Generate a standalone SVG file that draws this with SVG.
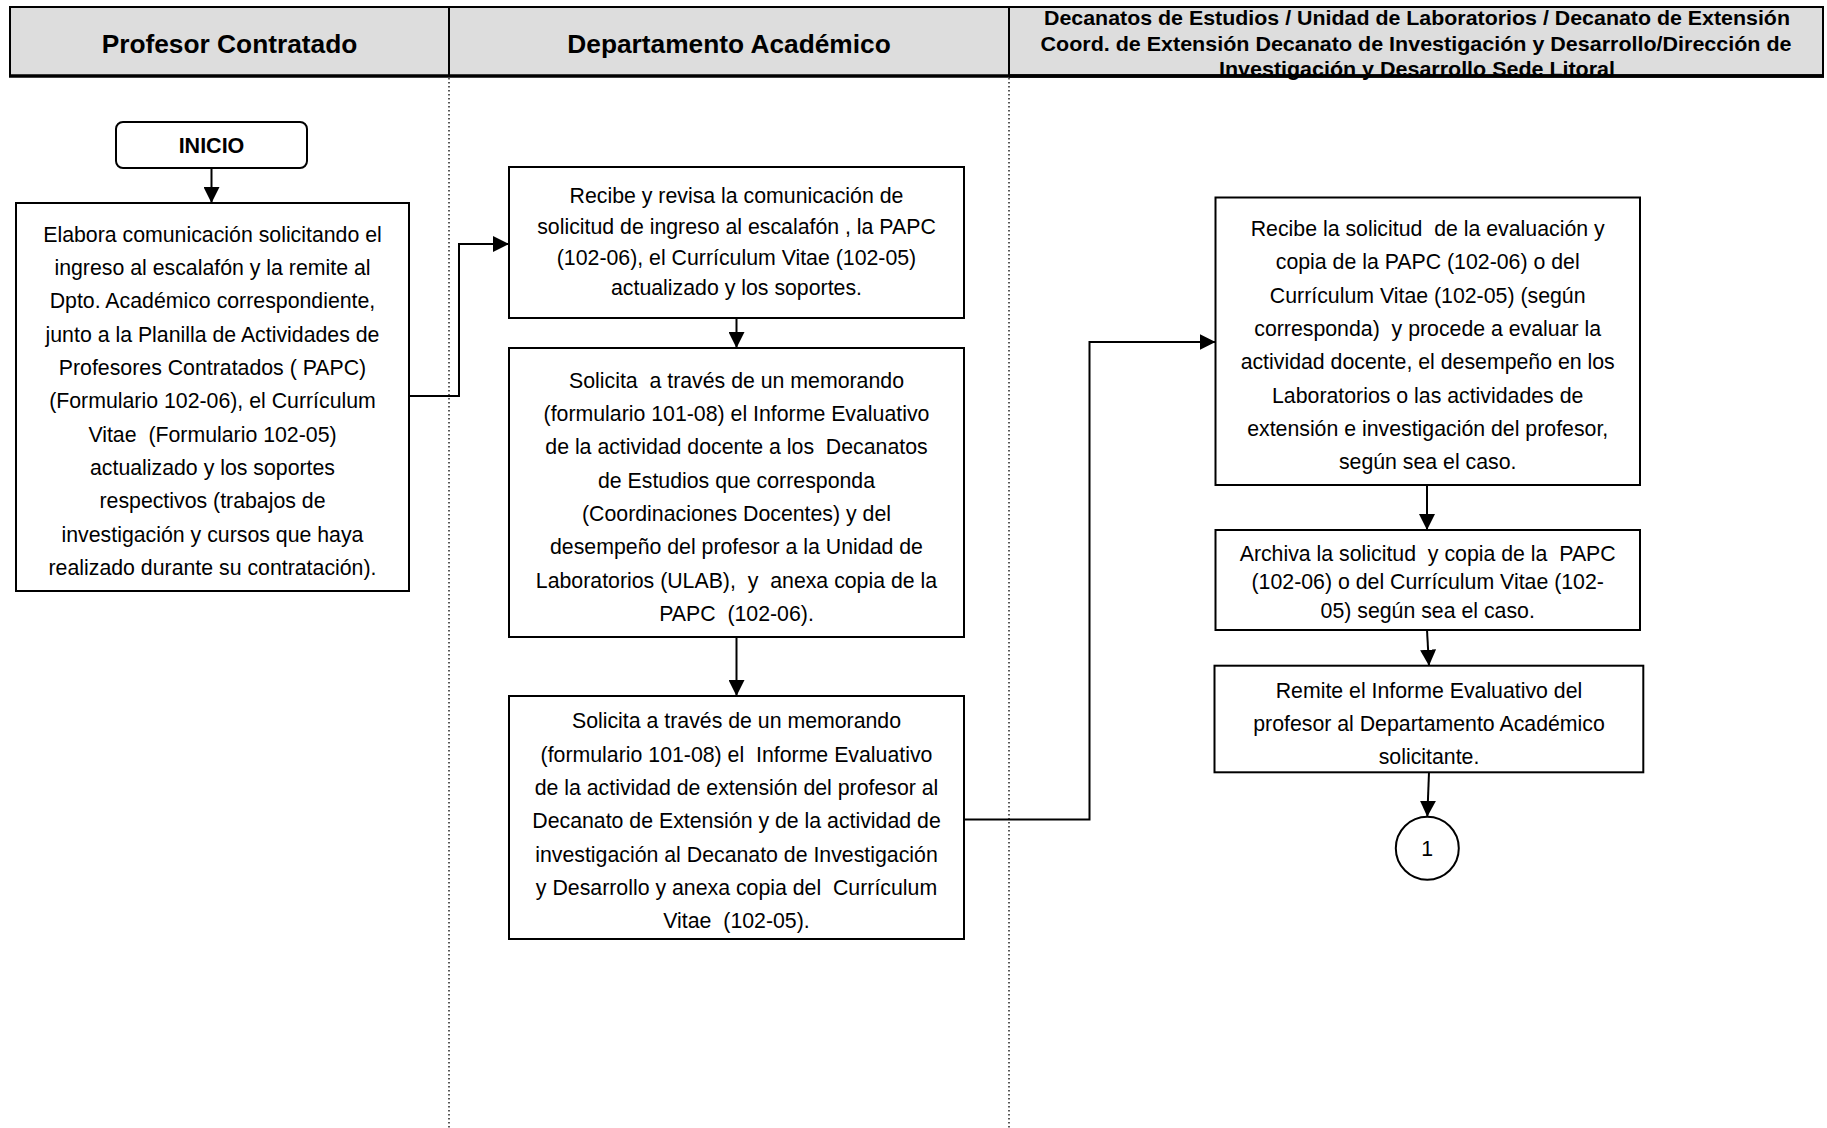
<svg xmlns="http://www.w3.org/2000/svg" width="1827" height="1128" viewBox="0 0 1827 1128">
<style>
.box{fill:#fff;stroke:#000;stroke-width:2}
.t{font-family:"Liberation Sans",Arial,sans-serif;font-size:21.3px;fill:#000;text-anchor:middle}
.hb{font-family:"Liberation Sans",Arial,sans-serif;font-weight:bold;fill:#000;text-anchor:middle}
.c{fill:none;stroke:#000;stroke-width:2}
.dot{stroke:#000;stroke-width:1.3;stroke-dasharray:1.5 2.5;fill:none}
</style>
<defs>
<marker id="ah" markerUnits="userSpaceOnUse" markerWidth="16" markerHeight="16" viewBox="0 0 15 15" refX="15" refY="7.5" orient="auto">
<path d="M0,0 L15,7.5 L0,15 z" fill="#000"/>
</marker>
</defs>
<rect width="1827" height="1128" fill="#fff"/>

<g id="lanes">
<rect x="10" y="7" width="1813" height="69" fill="#dddddd" stroke="#000" stroke-width="2"/>
<line x1="9" y1="76" x2="1824" y2="76" stroke="#000" stroke-width="3.5"/>
<line x1="449" y1="7" x2="449" y2="76" stroke="#000" stroke-width="2"/>
<line x1="1009" y1="7" x2="1009" y2="76" stroke="#000" stroke-width="2"/>
<line class="dot" x1="449" y1="78" x2="449" y2="1128"/>
<line class="dot" x1="1009" y1="78" x2="1009" y2="1128"/>
<text class="hb" x="229.5" y="52.5" font-size="26.3">Profesor Contratado</text>
<text class="hb" x="729" y="52.5" font-size="26.3">Departamento Académico</text>
<text class="hb" x="1417" y="25" font-size="21" textLength="746" lengthAdjust="spacingAndGlyphs">Decanatos de Estudios / Unidad de Laboratorios / Decanato de Extensión</text>
<text class="hb" x="1416" y="50.5" font-size="21" textLength="751" lengthAdjust="spacingAndGlyphs">Coord. de Extensión Decanato de Investigación y Desarrollo/Dirección de</text>
<text class="hb" x="1417" y="75.5" font-size="21" textLength="396" lengthAdjust="spacingAndGlyphs">Investigación y Desarrollo Sede Litoral</text>
<line x1="1009" y1="76" x2="1824" y2="76" stroke="#000" stroke-width="3.5"/>
</g>

<g id="connectors">
<line class="c" x1="211.5" y1="168" x2="211.5" y2="203" marker-end="url(#ah)"/>
<polyline class="c" points="409,396 459,396 459,244 509,244" marker-end="url(#ah)"/>
<line class="c" x1="736.5" y1="318" x2="736.5" y2="348" marker-end="url(#ah)"/>
<line class="c" x1="736.5" y1="637" x2="736.5" y2="696" marker-end="url(#ah)"/>
<polyline class="c" points="964,819.5 1089.5,819.5 1089.5,342 1215.5,342" marker-end="url(#ah)"/>
<line class="c" x1="1427" y1="485" x2="1427" y2="530" marker-end="url(#ah)"/>
<line class="c" x1="1427" y1="630" x2="1429" y2="665.7" marker-end="url(#ah)"/>
<line class="c" x1="1429" y1="772.3" x2="1427.3" y2="816.8" marker-end="url(#ah)"/>
</g>

<g id="inicio">
<rect class="box" x="116" y="122" width="191" height="46" rx="7"/>
<text class="hb" x="211.5" y="153" font-size="21.5">INICIO</text>
</g>

<g id="n1">
<rect class="box" x="16" y="203" width="393" height="388"/>
<text class="t" x="212.5" y="241.5">Elabora comunicación solicitando el</text>
<text class="t" x="212.5" y="274.8">ingreso al escalafón y la remite al</text>
<text class="t" x="212.5" y="308.2">Dpto. Académico correspondiente,</text>
<text class="t" x="212.5" y="341.5">junto a la Planilla de Actividades de</text>
<text class="t" x="212.5" y="374.8">Profesores Contratados ( PAPC)</text>
<text class="t" x="212.5" y="408.2">(Formulario 102-06), el Currículum</text>
<text class="t" x="212.5" y="441.5">Vitae&#160; (Formulario 102-05)</text>
<text class="t" x="212.5" y="474.8">actualizado y los soportes</text>
<text class="t" x="212.5" y="508.2">respectivos (trabajos de</text>
<text class="t" x="212.5" y="541.5">investigación y cursos que haya</text>
<text class="t" x="212.5" y="574.8">realizado durante su contratación).</text>
</g>

<g id="n2">
<rect class="box" x="509" y="167" width="455" height="151"/>
<text class="t" x="736.5" y="203.2">Recibe y revisa la comunicación de</text>
<text class="t" x="736.5" y="234.2">solicitud de ingreso al escalafón , la PAPC</text>
<text class="t" x="736.5" y="264.8">(102-06), el Currículum Vitae (102-05)</text>
<text class="t" x="736.5" y="294.8">actualizado y los soportes.</text>
</g>

<g id="n3">
<rect class="box" x="509" y="348" width="455" height="289"/>
<text class="t" x="736.5" y="387.5">Solicita&#160; a través de un memorando</text>
<text class="t" x="736.5" y="420.8">(formulario 101-08) el Informe Evaluativo</text>
<text class="t" x="736.5" y="454.2">de la actividad docente a los&#160; Decanatos</text>
<text class="t" x="736.5" y="487.5">de Estudios que corresponda</text>
<text class="t" x="736.5" y="520.8">(Coordinaciones Docentes) y del</text>
<text class="t" x="736.5" y="554.2">desempeño del profesor a la Unidad de</text>
<text class="t" x="736.5" y="587.5">Laboratorios (ULAB),&#160; y&#160; anexa copia de la</text>
<text class="t" x="736.5" y="620.8">PAPC&#160; (102-06).</text>
</g>

<g id="n4">
<rect class="box" x="509" y="696" width="455" height="243"/>
<text class="t" x="736.5" y="728.2">Solicita a través de un memorando</text>
<text class="t" x="736.5" y="761.5">(formulario 101-08) el&#160; Informe Evaluativo</text>
<text class="t" x="736.5" y="794.8">de la actividad de extensión del profesor al</text>
<text class="t" x="736.5" y="828.2">Decanato de Extensión y de la actividad de</text>
<text class="t" x="736.5" y="861.5">investigación al Decanato de Investigación</text>
<text class="t" x="736.5" y="894.8">y Desarrollo y anexa copia del&#160; Currículum</text>
<text class="t" x="736.5" y="928.2">Vitae&#160; (102-05).</text>
</g>

<g id="n5">
<rect class="box" x="1215.5" y="197.5" width="424.5" height="287.5"/>
<text class="t" x="1427.7" y="235.8">Recibe la solicitud&#160; de la evaluación y</text>
<text class="t" x="1427.7" y="269.2">copia de la PAPC (102-06) o del</text>
<text class="t" x="1427.7" y="302.5">Currículum Vitae (102-05) (según</text>
<text class="t" x="1427.7" y="335.8">corresponda)&#160; y procede a evaluar la</text>
<text class="t" x="1427.7" y="369.2">actividad docente, el desempeño en los</text>
<text class="t" x="1427.7" y="402.5">Laboratorios o las actividades de</text>
<text class="t" x="1427.7" y="435.8">extensión e investigación del profesor,</text>
<text class="t" x="1427.7" y="469.2">según sea el caso.</text>
</g>

<g id="n6">
<rect class="box" x="1215.5" y="530" width="424.5" height="100"/>
<text class="t" x="1427.7" y="560.8">Archiva la solicitud&#160; y copia de la&#160; PAPC</text>
<text class="t" x="1427.7" y="589.2">(102-06) o del Currículum Vitae (102-</text>
<text class="t" x="1427.7" y="617.5">05) según sea el caso.</text>
</g>

<g id="n7">
<rect class="box" x="1214.5" y="665.7" width="428.8" height="106.6"/>
<text class="t" x="1429" y="697.5">Remite el Informe Evaluativo del</text>
<text class="t" x="1429" y="730.8">profesor al Departamento Académico</text>
<text class="t" x="1429" y="764.2">solicitante.</text>
</g>

<g id="c1">
<circle cx="1427.3" cy="848.3" r="31.5" fill="#fff" stroke="#000" stroke-width="2"/>
<text class="t" x="1427.3" y="855.8">1</text>
</g>
</svg>
